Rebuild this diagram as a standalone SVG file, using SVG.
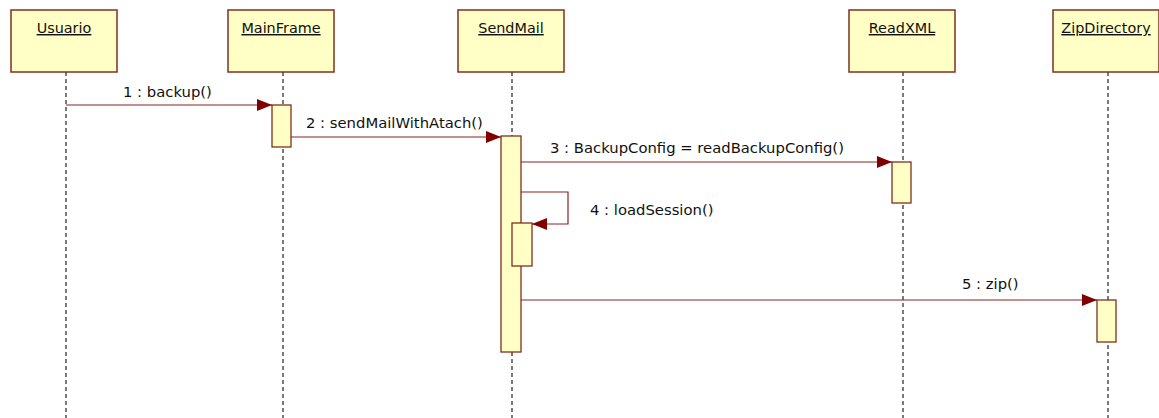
<svg xmlns="http://www.w3.org/2000/svg" width="1159" height="418" viewBox="0 0 1159 418">
<style>
.box{fill:#FFFFC6;stroke:#80301E;stroke-width:1.5}
.act{fill:#FFFFC6;stroke:#80301E;stroke-width:1.3}
.life{stroke:#222;stroke-width:1.2;stroke-dasharray:4 3;fill:none}
.msg{stroke:#8E2222;stroke-width:1.2;fill:none}
.t{font-family:"DejaVu Sans",sans-serif;font-size:14.8px;fill:#111}
.h{font-family:"DejaVu Sans",sans-serif;font-size:14.4px;fill:#111;text-decoration:underline;text-anchor:middle}
</style>
<defs>
<marker id="arr" markerWidth="15" markerHeight="12" refX="15" refY="6" orient="auto" markerUnits="userSpaceOnUse">
<path d="M0,0 L15,6 L0,12 Z" fill="#800000"/>
</marker>
</defs>
<rect width="1159" height="418" fill="#fff"/>
<g id="Usuario">
<line class="life" x1="66" y1="72" x2="66" y2="418"/>
<rect class="box" x="11" y="10" width="106" height="62"/>
<text class="h" x="64" y="33">Usuario</text>
</g>
<g id="MainFrame">
<line class="life" x1="283" y1="72" x2="283" y2="418"/>
<rect class="box" x="228" y="10" width="106" height="62"/>
<text class="h" x="281" y="33">MainFrame</text>
<rect class="act" x="272" y="105" width="19" height="42"/>
</g>
<g id="SendMail">
<line class="life" x1="512" y1="72" x2="512" y2="418"/>
<rect class="box" x="458" y="10" width="106" height="62"/>
<text class="h" x="511" y="33">SendMail</text>
<rect class="act" x="501" y="136" width="20" height="216"/>
<rect class="act" x="512" y="223" width="20" height="43"/>
</g>
<g id="ReadXML">
<line class="life" x1="903" y1="72" x2="903" y2="418"/>
<rect class="box" x="849" y="10" width="106" height="62"/>
<text class="h" x="902" y="33">ReadXML</text>
<rect class="act" x="892" y="162" width="19" height="41"/>
</g>
<g id="ZipDirectory">
<line class="life" x1="1108" y1="72" x2="1108" y2="418"/>
<rect class="box" x="1053" y="10" width="106" height="62"/>
<text class="h" x="1106" y="33">ZipDirectory</text>
<rect class="act" x="1097" y="300" width="19" height="42"/>
</g>
<g id="connectors">
<line class="msg" x1="66" y1="105" x2="272" y2="105" marker-end="url(#arr)"/>
<text class="t" x="123" y="97">1 : backup()</text>
<line class="msg" x1="291" y1="137" x2="501" y2="137" marker-end="url(#arr)"/>
<text class="t" x="306" y="128">2 : sendMailWithAtach()</text>
<line class="msg" x1="521" y1="162" x2="892" y2="162" marker-end="url(#arr)"/>
<text class="t" x="550" y="153">3 : BackupConfig = readBackupConfig()</text>
<polyline class="msg" points="521,192 568,192 568,224 532,224" marker-end="url(#arr)"/>
<text class="t" x="590" y="215">4 : loadSession()</text>
<line class="msg" x1="521" y1="300" x2="1097" y2="300" marker-end="url(#arr)"/>
<text class="t" x="962" y="289">5 : zip()</text>
</g>
</svg>
